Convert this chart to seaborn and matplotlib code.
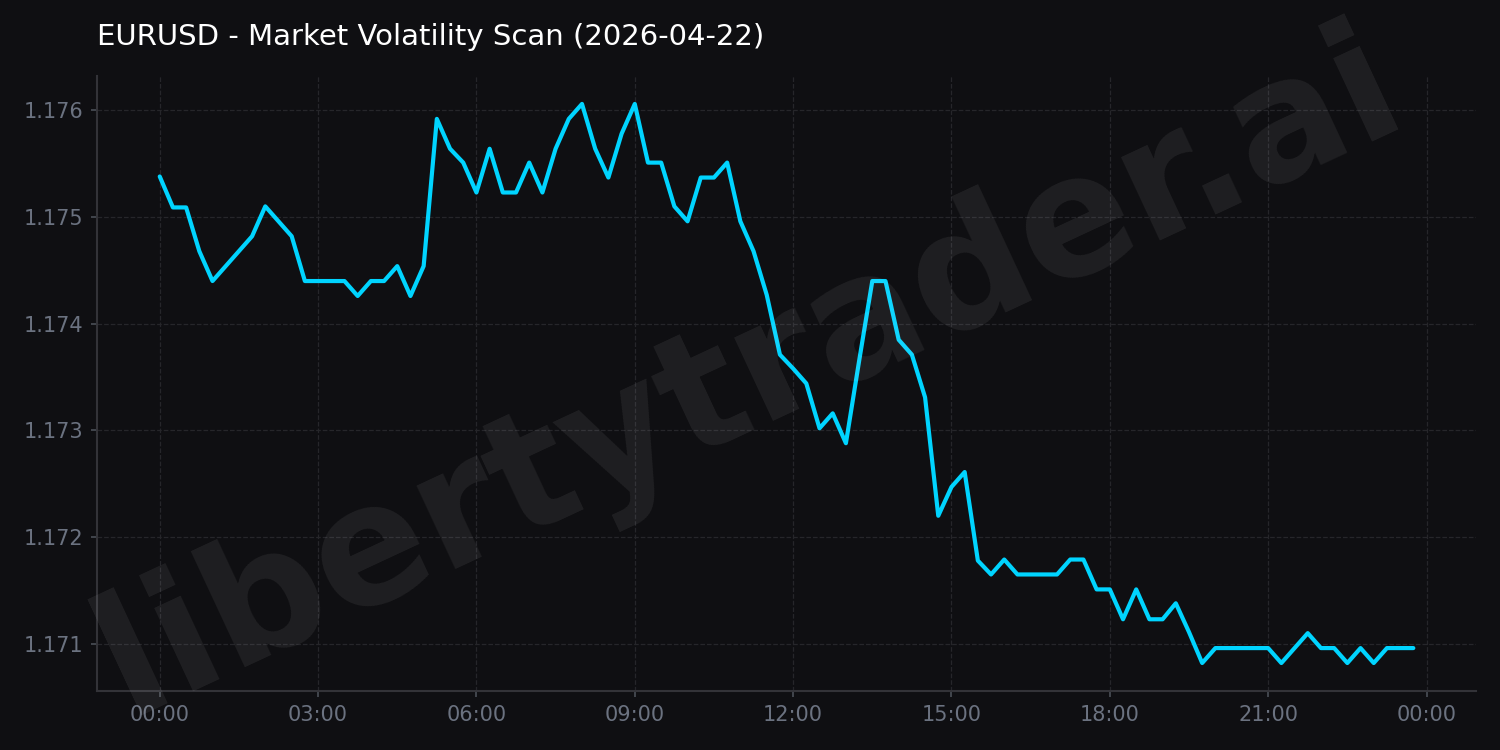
import matplotlib
matplotlib.use("Agg")
import matplotlib.pyplot as plt
import matplotlib.dates as mdates
import matplotlib.ticker as mticker
import seaborn as sns
import pandas as pd

# ---- data ----
start_time = "2026-04-22 00:00"
n_points = 96
interval = "15min"
prices = [
    1.17538, 1.17509, 1.17509, 1.17468, 1.17440, 1.17454, 1.17468, 1.17482,
    1.17510, 1.17496, 1.17482, 1.17440, 1.17440, 1.17440, 1.17440, 1.17426,
    1.17440, 1.17440, 1.17454, 1.17426, 1.17454, 1.17592, 1.17564, 1.17551,
    1.17523, 1.17564, 1.17523, 1.17523, 1.17551, 1.17523, 1.17564, 1.17592,
    1.17606, 1.17564, 1.17537, 1.17578, 1.17606, 1.17551, 1.17551, 1.17510,
    1.17496, 1.17537, 1.17537, 1.17551, 1.17496, 1.17468, 1.17427, 1.17371,
    1.17358, 1.17344, 1.17302, 1.17316, 1.17288, 1.17365, 1.17440, 1.17440,
    1.17385, 1.17371, 1.17331, 1.17220, 1.17247, 1.17261, 1.17178, 1.17165,
    1.17179, 1.17165, 1.17165, 1.17165, 1.17165, 1.17179, 1.17179, 1.17151,
    1.17151, 1.17123, 1.17151, 1.17123, 1.17123, 1.17138, 1.17111, 1.17082,
    1.17096, 1.17096, 1.17096, 1.17096, 1.17096, 1.17082, 1.17096, 1.17110,
    1.17096, 1.17096, 1.17082, 1.17096, 1.17082, 1.17096, 1.17096, 1.17096,
]
title = "EURUSD - Market Volatility Scan (2026-04-22)"
watermark = "libertytrader.ai"

times = pd.date_range(start_time, periods=n_points, freq=interval)
df = pd.DataFrame({"time": times, "price": prices})

BG = "#0f0f12"
sns.set_theme(style="dark")
plt.rcParams["font.family"] = ["DejaVu Sans"]

fig, ax = plt.subplots(figsize=(10, 5), dpi=150)
fig.patch.set_facecolor(BG)
ax.set_facecolor(BG)
fig.subplots_adjust(left=0.0647, right=0.984, top=0.8987, bottom=0.0787)

fig.text(0.5, 0.5, watermark, ha="center", va="center", rotation=25,
         fontsize=80, fontweight="bold", color="white", alpha=0.07, zorder=0)

sns.lineplot(data=df, x="time", y="price", ax=ax, color="#00d4ff",
             linewidth=2.0, zorder=3)

ax.set_xlabel("")
ax.set_ylabel("")
ax.set_title(title, loc="left", color="white", fontsize=14, pad=15)

ax.xaxis.set_major_locator(mdates.HourLocator(byhour=range(0, 24, 3)))
ax.xaxis.set_major_formatter(mdates.DateFormatter("%H:%M"))
ax.yaxis.set_major_locator(mticker.MultipleLocator(0.001))
ax.yaxis.set_major_formatter(mticker.StrMethodFormatter("{x:.3f}"))

ax.grid(True, color="#26262a", linestyle="--", linewidth=0.6)
ax.tick_params(colors="#4b4f57", labelcolor="#6b7280", labelsize=10,
               length=3, width=0.8, left=True, bottom=True)
for side in ["top", "right"]:
    ax.spines[side].set_visible(False)
for side in ["left", "bottom"]:
    ax.spines[side].set_color("#333338")
    ax.spines[side].set_linewidth(1.0)

fig.savefig("out.png", dpi=150, facecolor=BG)
